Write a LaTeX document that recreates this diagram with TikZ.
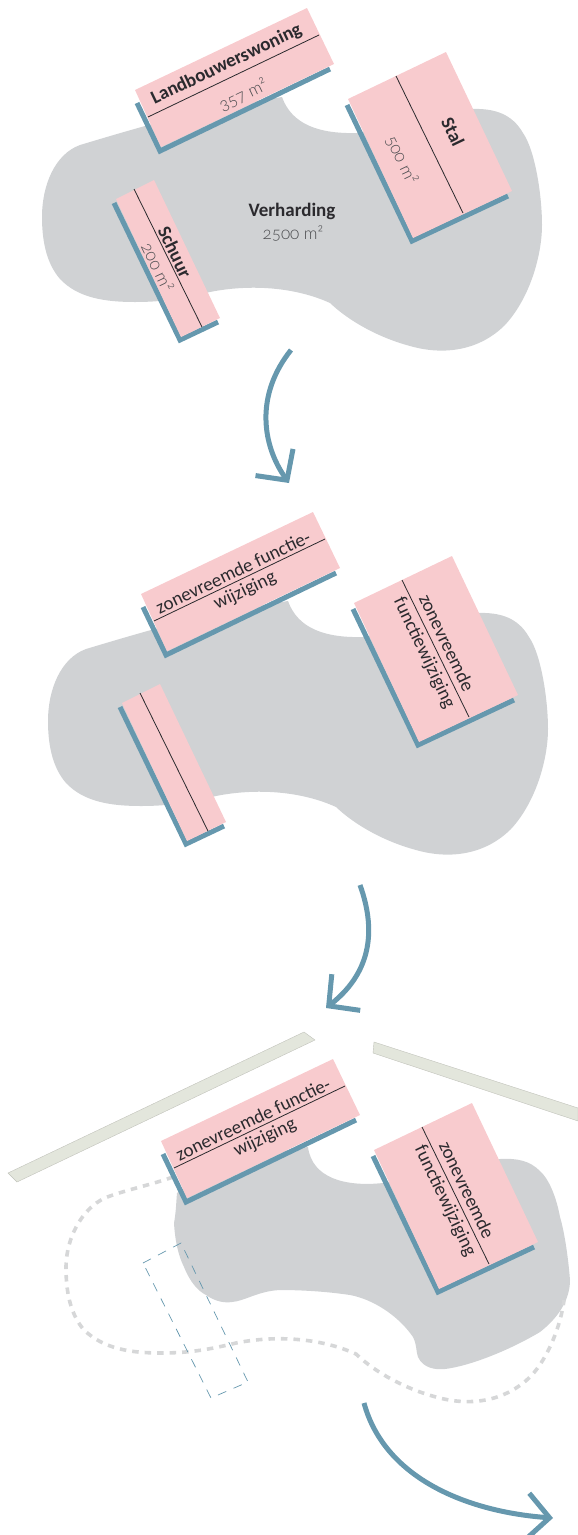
\documentclass[tikz,border=0pt]{standalone}
\usepackage{fontspec}
\setmainfont[Numbers=OldStyle]{Carlito}
\newfontfamily\lichtfont[Numbers=OldStyle]{Lato Light}
\usetikzlibrary{arrows.meta}
\definecolor{pand}{HTML}{F8CBCE}
\definecolor{gevel}{HTML}{6698AE}
\definecolor{verhard}{HTML}{D0D2D4}
\definecolor{oudlijn}{HTML}{D6D7D8}
\definecolor{berm}{HTML}{E3E6DC}
\definecolor{tekst}{HTML}{2B2A2E}
\definecolor{maat}{HTML}{4A4B4E}
\tikzset{
  pand/.style={fill=pand},
  gevel/.style={draw=gevel,line width=5pt,miter limit=4},
  deel/.style={draw=tekst,line width=.8pt},
  naam/.style={text=tekst,font=\fontsize{19}{21}\selectfont\bfseries,inner sep=0pt},
  maat/.style={text=maat,font=\lichtfont\fontsize{17}{20}\selectfont,inner sep=0pt},
  functie/.style={text=tekst,font=\fontsize{19}{21}\selectfont,inner sep=0pt},
  pijl/.style={draw=gevel,line width=5pt,-{Straight Barb[length=22pt,width=46pt,line width=5pt]}},
  bermrand/.style={fill=berm,draw=berm!85!black,line width=.4pt},
  oud/.style={draw=oudlijn,line width=3.6pt,dash pattern=on 6.5pt off 6pt},
  schuurlijn/.style={draw=gevel,line width=.7pt,dash pattern=on 9pt off 8pt}
}
\newcommand{\vlak}{(145,126) .. controls (120,133) and (100,139) .. (80,145)
  .. controls (55,154) and (42,185) .. (42,217)
  .. controls (42,245) and (48,265) .. (60,279)
  .. controls (78,298) and (105,302) .. (135,302)
  .. controls (165,302) and (185,298) .. (210,292)
  .. controls (250,284) and (295,287) .. (330,303)
  .. controls (350,322) and (380,338) .. (410,346)
  .. controls (445,356) and (480,350) .. (505,325)
  .. controls (530,298) and (542,255) .. (542,225)
  .. controls (542,195) and (535,150) .. (523,133)
  .. controls (512,114) and (495,108) .. (470,109)
  -- (420,125) -- (357,133)
  .. controls (320,134) and (292,125) .. (282,97) -- (200,110) -- cycle}
\begin{document}
\begin{tikzpicture}[x=1pt,y=-1pt]
\useasboundingbox (0,0) rectangle (578,1535);
% verharding
\fill[verhard] \vlak;
\begin{scope}[xshift=6pt,yshift=-504pt]
\fill[verhard] \vlak;
\end{scope}
\fill[verhard] (177,1193) .. controls (176,1205) and (176,1212) .. (174,1223)
  .. controls (175,1240) and (178,1255) .. (184,1267)
  .. controls (190,1282) and (198,1291) .. (206,1295)
  .. controls (216,1302) and (225,1303) .. (232,1302)
  .. controls (245,1301) and (258,1291) .. (280,1290)
  .. controls (305,1290) and (330,1292) .. (350,1295)
  .. controls (372,1299) and (398,1315) .. (413,1337)
  .. controls (417,1345) and (416,1352) .. (418,1357)
  .. controls (423,1368) and (435,1370) .. (445,1369)
  .. controls (470,1366) and (510,1350) .. (540,1332)
  .. controls (558,1318) and (570,1300) .. (570,1280)
  .. controls (568,1255) and (564,1230) .. (560,1217)
  .. controls (556,1195) and (548,1178) .. (540,1171)
  .. controls (530,1161) and (518,1158) .. (500,1159)
  -- (440,1170) -- (383,1183)
  .. controls (345,1187) and (312,1178) .. (308,1147) -- (220,1160) -- cycle;
% oude verharding
\draw[oud] (173,1177) .. controls (150,1185) and (130,1189) .. (110,1196)
  .. controls (85,1204) and (66,1235) .. (66,1268)
  .. controls (66,1296) and (72,1316) .. (84,1330)
  .. controls (104,1349) and (131,1353) .. (161,1353)
  .. controls (191,1353) and (211,1349) .. (236,1343)
  .. controls (276,1335) and (321,1338) .. (356,1354)
  .. controls (376,1373) and (406,1389) .. (436,1397)
  .. controls (471,1407) and (506,1401) .. (531,1376)
  .. controls (548,1358) and (561,1325) .. (564,1300);
% bermen
\filldraw[bermrand] (8,1173) -- (304,1032) -- (315,1040) -- (17,1182) -- cycle;
\filldraw[bermrand] (374,1042) -- (578,1108) -- (578,1121) -- (373,1053) -- cycle;
% gebouwen
\foreach \dx/\dy in {0/0,6/504,26/1051}{
\begin{scope}[xshift=\dx pt,yshift=-\dy pt]
\draw[gevel] (137,103) -- (160,151) -- (330,69);
\fill[pand] (135,90) -- (307,8) -- (334,64) -- (161,147) -- cycle;
\draw[deel] (148,117) -- (319,35);
\draw[gevel] (347,105) -- (412,241) -- (508,196);
\fill[pand] (348,99) -- (446,52) -- (512,191) -- (413,238) -- cycle;
\draw[deel] (396,76) -- (463,213);
\end{scope}}
\foreach \dx/\dy in {0/0,6/504}{
\begin{scope}[xshift=\dx pt,yshift=-\dy pt]
\draw[gevel] (114,203) -- (180,340) -- (218,322);
\fill[pand] (116,199) -- (154,180) -- (220,318) -- (181,337) -- cycle;
\draw[deel] (134,189) -- (202,327);
\end{scope}}
\draw[schuurlijn] (143,1263) -- (181,1243) -- (248,1382) -- (211,1398) -- cycle;
% teksten
\node[naam,rotate=25.5] (landbouw) at (226.5,64.5) {Landbouwerswoning};
\node[maat,rotate=25.5] (landbouwm) at (243,95) {357 m²};
\node[naam,rotate=-64.5] (stal) at (453,132) {Stal};
\node[maat,rotate=-64.5] (stalm) at (402,160) {500 m²};
\node[naam,rotate=-64.5] (schuur) at (175,252) {Schuur};
\node[maat,rotate=-64.5] (schuurm) at (158,267) {200 m²};
\node[naam] (verharding) at (292,211) {Verharding};
\node[maat] (verhardingm) at (293,233) {2500 m²};
\foreach \naam/\x/\y/\xx/\yy/\xxx/\yyy/\xxxx/\yyyy in {b/233/572/245/591/447/643/424/653,c/253/1119/265/1138/467/1190/445/1201}{
\node[functie,rotate=25.5] (woning\naam a) at (\x,\y) {zonevreemde functie-};
\node[functie,rotate=25.5] (woning\naam b) at (\xx,\yy) {wijziging};
\node[functie,rotate=-64.5] (stal\naam a) at (\xxx,\yyy) {zonevreemde};
\node[functie,rotate=-64.5] (stal\naam b) at (\xxxx,\yyyy) {functiewijziging};
}
% pijlen
\coordinate (pijla) at (291,350);
\coordinate (pijlb) at (289,483);
\coordinate (pijlc) at (360,885);
\coordinate (pijld) at (326,1008);
\coordinate (pijle) at (364,1403);
\coordinate (pijlf) at (553,1518);
\draw[pijl] (pijla) .. controls (255,395) and (262,445) .. (pijlb);
\draw[pijl] (pijlc) .. controls (378,935) and (368,975) .. (pijld);
\draw[pijl] (pijle) .. controls (385,1480) and (470,1512) .. (pijlf);
\end{tikzpicture}
\end{document}
